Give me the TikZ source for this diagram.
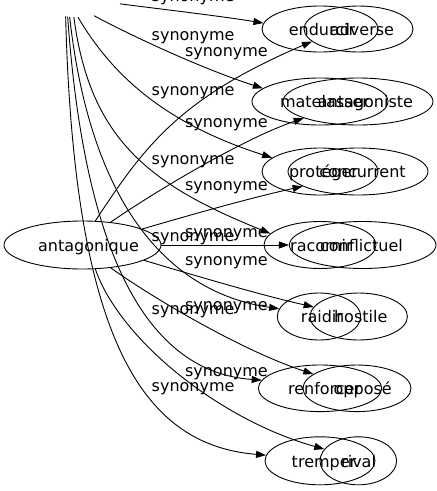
\documentclass[tikz,border=0pt]{standalone}
\usepackage{fontspec}
\setmainfont{DejaVu Sans}
\usetikzlibrary{shapes.geometric,arrows.meta}
\begin{document}
\begin{tikzpicture}[x=1pt,y=-1pt,
  ell/.style={draw, ellipse, inner sep=0pt, line width=0.9pt},
  word/.style={anchor=base, inner sep=0pt, font=\fontsize{16}{19}\selectfont},
  syn/.style={anchor=base, inner sep=0pt, font=\fontsize{16}{19}\selectfont},
  edge/.style={line width=0.9pt, -{Triangle[length=10pt,width=7pt]}},
]
\useasboundingbox (0,0) rectangle (437,491);
% invisible source of the second graph (above the picture)
\node[ellipse, minimum width=96pt, minimum height=52pt, inner sep=0pt] (src) at (78,-9) {};
% graph 1
\node[ell, minimum width=157pt, minimum height=48pt] (antag) at (82.5,245) {};
\node[word] (antag-t) at (88.5,251) {antagonique};
\node[ell, minimum width=109pt, minimum height=46pt] (adverse) at (358.5,29) {};
\node[ell, minimum width=150pt, minimum height=47pt] (antagoniste) at (358,101.5) {};
\node[ell, minimum width=140pt, minimum height=47pt] (concurrent) at (358,171.5) {};
\node[ell, minimum width=146.6pt, minimum height=47pt] (conflictuel) at (362.7,245) {};
\node[ell, minimum width=97.4pt, minimum height=47pt] (hostile) at (358.7,316.5) {};
\node[ell, minimum width=108pt, minimum height=46.6pt] (oppose) at (357,388.3) {};
\node[ell, minimum width=76.6pt, minimum height=48pt] (rival) at (358.3,460.8) {};
% graph 2
\node[ell, minimum width=116pt, minimum height=46pt] (endurcir) at (320,29) {};
\node[ell, minimum width=136pt, minimum height=47pt] (matelasser) at (320,101.5) {};
\node[ell, minimum width=116pt, minimum height=47pt] (proteger) at (320,171.5) {};
\node[ell, minimum width=112pt, minimum height=47pt] (racornir) at (320,245) {};
\node[ell, minimum width=83.4pt, minimum height=47pt] (raidir) at (319,316.5) {};
\node[ell, minimum width=123.4pt, minimum height=46.6pt] (renforcer) at (320,388.3) {};
\node[ell, minimum width=110pt, minimum height=48pt] (tremper) at (320,460.8) {};
% words
\node[word] (endurcir-t) at (322,35) {endurcir};
\node[word] (adverse-t) at (362,35) {adverse};
\node[word] (matelasser-t) at (324.5,107.5) {matelasser};
\node[word] (antagoniste-t) at (365.5,107.5) {antagoniste};
\node[word] (proteger-t) at (323.5,177.5) {protéger};
\node[word] (concurrent-t) at (362.5,177.5) {concurrent};
\node[word] (racornir-t) at (321.4,251) {racornir};
\node[word] (conflictuel-t) at (361.5,251) {conflictuel};
\node[word] (raidir-t) at (322,322.5) {raidir};
\node[word] (hostile-t) at (360.7,322.5) {hostile};
\node[word] (renforcer-t) at (324.6,394) {renforcer};
\node[word] (oppose-t) at (362.7,394) {opposé};
\node[word] (tremper-t) at (324,467) {tremper};
\node[word] (rival-t) at (358.6,467) {rival};
% labels
\node[syn] (l1) at (193.1,1.5) {synonyme};
\node[syn] (l2) at (193.1,40) {synonyme};
\node[syn] (l3) at (226.4,56) {synonyme};
\node[syn] (l4) at (193.1,95.5) {synonyme};
\node[syn] (l5) at (226.4,127.5) {synonyme};
\node[syn] (l6) at (193.1,164.5) {synonyme};
\node[syn] (l7) at (226.4,190) {synonyme};
\node[syn] (l8) at (193.1,241) {synonyme};
\node[syn] (l9) at (226.4,237) {synonyme};
\node[syn] (l10) at (226.4,265) {synonyme};
\node[syn] (l11) at (193.1,314) {synonyme};
\node[syn] (l12) at (226.4,310) {synonyme};
\node[syn] (l13) at (226.4,376) {synonyme};
\node[syn] (l14) at (193.1,391) {synonyme};
% graph 1 edges
\draw[edge] (antag.62.5) .. controls (144,147) and (178.5,98.5) .. (adverse.195.9);
\draw[edge] (antag.39.3) .. controls (150,195) and (240,140) .. (antagoniste.197.3);
\draw[edge] (antag.15.8) .. controls (190,215) and (250,198) .. (concurrent.195);
\draw[edge] (antag.east) -- (conflictuel.west);
\draw[edge] (antag.-14.2) .. controls (190,274) and (260,295) .. (hostile.168.4);
\draw[edge] (antag.-39.3) .. controls (150,296) and (240,350) .. (oppose.162.2);
\draw[edge] (antag.-62.5) .. controls (120,340) and (220,420) .. (rival.161.1);
% graph 2 edges
\draw[edge] (src.343.3) .. controls (160,9) and (220,16) .. (endurcir.174);
\draw[edge] (src.303.1) .. controls (130,35) and (200,68) .. (matelasser.167);
\draw[edge] (src.270) .. controls (115,80) and (170,125) .. (proteger.164);
\draw[edge] (src.261.2) .. controls (90,140) and (150,185) .. (racornir.167);
\draw[edge] (src.252.6) .. controls (90,200) and (165,292) .. (raidir.169);
\draw[edge] (src.248.5) .. controls (84,250) and (145,372) .. (renforcer.172);
\draw[edge] (src.244.5) .. controls (74,335) and (140,445) .. (tremper.174);
\end{tikzpicture}
\end{document}
